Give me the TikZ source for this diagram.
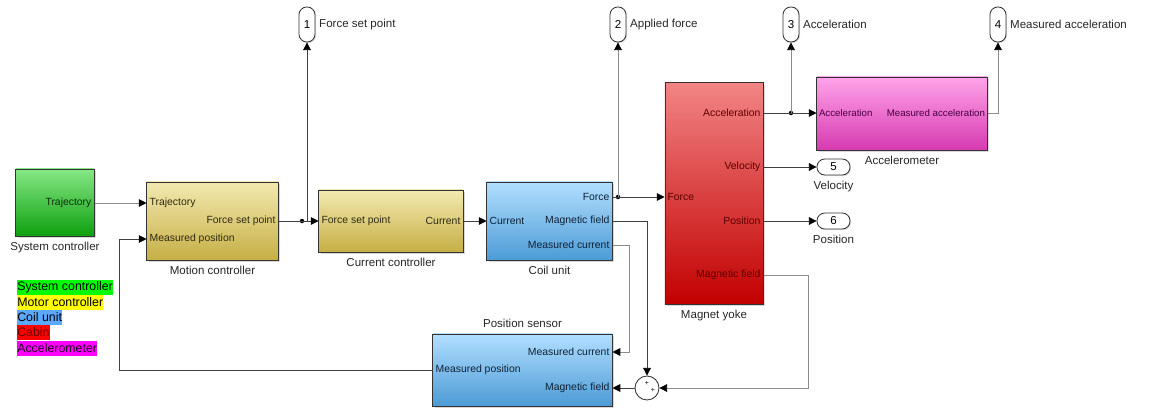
\documentclass[tikz,border=0pt]{standalone}
\usepackage{fontspec}
\setmainfont{Liberation Sans}
\usetikzlibrary{positioning,arrows.meta,shadows}
\definecolor{sysTop}{HTML}{86E886}
\definecolor{sysBot}{HTML}{0EA00E}
\definecolor{motTop}{HTML}{F3E9B0}
\definecolor{motBot}{HTML}{C6AF45}
\definecolor{coilTop}{HTML}{B2DFFF}
\definecolor{coilBot}{HTML}{4C9BD6}
\definecolor{yokeTop}{HTML}{F28484}
\definecolor{yokeBot}{HTML}{C20000}
\definecolor{accTop}{HTML}{FFA4EA}
\definecolor{accBot}{HTML}{D63AB0}
\definecolor{sysTxt}{HTML}{0B2E0B}
\definecolor{motTxt}{HTML}{2E2A12}
\definecolor{coilTxt}{HTML}{0E2236}
\definecolor{yokeTxt}{HTML}{5C0000}
\definecolor{accTxt}{HTML}{4A0040}
\definecolor{legGreen}{HTML}{00FF00}
\definecolor{legYellow}{HTML}{FFFF00}
\definecolor{legBlue}{HTML}{5CA8FF}
\definecolor{legRed}{HTML}{FF0000}
\definecolor{legMag}{HTML}{FF00FF}
\newcommand{\portfont}{\fontsize{7.4}{9}\selectfont}
\newcommand{\accfont}{\fontsize{6.9}{9}\selectfont}
\newcommand{\namefont}{\fontsize{8.2}{10}\selectfont}
\newcommand{\legfont}{\fontsize{8.8}{10}\selectfont}
\tikzset{
	blk/.style={draw=black!80, line width=0.7pt, inner sep=0pt,
		drop shadow={shadow xshift=1.2pt, shadow yshift=-1.2pt, opacity=0.3}},
	sysblk/.style={blk, top color=sysTop, bottom color=sysBot},
	motblk/.style={blk, top color=motTop, bottom color=motBot},
	coilblk/.style={blk, top color=coilTop, bottom color=coilBot},
	yokeblk/.style={blk, top color=yokeTop, bottom color=yokeBot},
	accblk/.style={blk, top color=accTop, bottom color=accBot},
	bname/.style={font=\namefont, text=black!85, inner sep=1pt},
	portin/.style={font=\portfont, anchor=west, inner xsep=2pt, inner ysep=1pt},
	portout/.style={font=\portfont, anchor=east, inner xsep=2pt, inner ysep=1pt},
	accport/.style={font=\accfont, text=accTxt, inner xsep=1.6pt},
	outv/.style={draw=black!80, fill=white, line width=0.6pt, rounded corners=5.5pt,
		minimum width=0.4cm, minimum height=0.875cm, inner sep=0pt, font=\namefont,
		drop shadow={shadow xshift=0.8pt, shadow yshift=-0.8pt, opacity=0.25}},
	outh/.style={outv, minimum width=0.825cm, minimum height=0.4cm},
	oname/.style={font=\namefont, text=black!85, inner xsep=2.5pt, inner ysep=1pt},
	sig/.style={draw=black!75, line width=0.6pt,
		-{Triangle[length=5.5pt,width=5.5pt,color=black]}},
	sigl/.style={sig, draw=black!45},
	dot/.style={circle, fill=black, inner sep=0pt, minimum size=3.2pt},
	plus/.style={font=\fontsize{5}{5}\selectfont, inner sep=0pt},
	legend/.style={anchor=west, inner sep=0pt, minimum height=0.375cm, font=\legfont}
}
\begin{document}
\begin{tikzpicture}[x=0.025cm,y=-0.025cm]
	\useasboundingbox (0,0) rectangle (1171,408);

	\node[sysblk, minimum width=1.95cm, minimum height=1.675cm] (sysc) at (55,202.5) {};
	\node[bname, below=1mm of sysc] (sysc-name) {System controller};
	\node[portout, text=sysTxt] (sysc-traj) at (sysc.east |- 0,203) {Trajectory};

	\node[motblk, minimum width=3.275cm, minimum height=1.95cm] (mot) at (212.5,221) {};
	\node[bname, below=1mm of mot] (mot-name) {Motion controller};
	\node[portin, text=motTxt] (mot-traj) at (mot.west |- 0,203) {Trajectory};
	\node[portin, text=motTxt] (mot-mpos) at (mot.west |- 0,239) {Measured position};
	\node[portout, text=motTxt] (mot-fsp) at (mot.east |- 0,221) {Force set point};

	\node[motblk, minimum width=3.6cm, minimum height=1.55cm] (cur) at (391,221) {};
	\node[bname, below=1mm of cur] (cur-name) {Current controller};
	\node[portin, text=motTxt] (cur-fsp) at (cur.west |- 0,221) {Force set point};
	\node[portout, text=motTxt] (cur-cur) at (cur.east |- 0,221) {Current};

	\node[coilblk, minimum width=3.125cm, minimum height=1.95cm] (coil) at (549.5,221) {};
	\node[bname, below=1mm of coil] (coil-name) {Coil unit};
	\node[portin, text=coilTxt] (coil-cur) at (coil.west |- 0,221) {Current};
	\node[portout, text=coilTxt] (coil-force) at (coil.east |- 0,197) {Force};
	\node[portout, text=coilTxt] (coil-mf) at (coil.east |- 0,221) {Magnetic field};
	\node[portout, text=coilTxt] (coil-mc) at (coil.east |- 0,245) {Measured current};

	\node[yokeblk, minimum width=2.45cm, minimum height=5.525cm] (yoke) at (714,193.5) {};
	\node[bname, below=1mm of yoke] (yoke-name) {Magnet yoke};
	\node[portin, text=yokeTxt] (yoke-force) at (yoke.west |- 0,197) {Force};
	\node[portout, text=yokeTxt] (yoke-acc) at (yoke.east |- 0,113) {Acceleration};
	\node[portout, text=yokeTxt] (yoke-vel) at (yoke.east |- 0,167) {Velocity};
	\node[portout, text=yokeTxt] (yoke-posn) at (yoke.east |- 0,221) {Position};
	\node[portout, text=yokeTxt] (yoke-mf) at (yoke.east |- 0,275) {Magnetic field};

	\node[accblk, minimum width=4.25cm, minimum height=1.825cm] (accm) at (902,113.5) {};
	\node[bname, below=1mm of accm] (accm-name) {Accelerometer};
	\node[portin, accport] (accm-acc) at (accm.west |- 0,113) {Acceleration};
	\node[portout, accport] (accm-macc) at (accm.east |- 0,113) {Measured acceleration};

	\node[coilblk, minimum width=4.475cm, minimum height=1.8cm] (pos) at (522.5,370) {};
	\node[bname, above=1mm of pos] (pos-name) {Position sensor};
	\node[portout, text=coilTxt] (pos-mc) at (pos.east |- 0,352) {Measured current};
	\node[portout, text=coilTxt] (pos-mf) at (pos.east |- 0,388) {Magnetic field};
	\node[portin, text=coilTxt] (pos-mpos) at (pos.west |- 0,370) {Measured position};

	\node[circle, draw=black!80, fill=white, line width=0.6pt, minimum size=0.6cm, inner sep=0pt] (sum) at (647,388) {};
	\node[plus] (sum-a) at (647,383) {+};
	\node[plus] (sum-b) at (653,390) {+};

	\node[outv] (out1) at (307,24.5) {1};
	\node[oname, right=0pt of out1] (out1-name) {Force set point};
	\node[outv] (out2) at (618,24.5) {2};
	\node[oname, right=0pt of out2] (out2-name) {Applied force};
	\node[outv] (out3) at (791,24.5) {3};
	\node[oname, right=0pt of out3] (out3-name) {Acceleration};
	\node[outv] (out4) at (998,24.5) {4};
	\node[oname, right=0pt of out4] (out4-name) {Measured acceleration};
	\node[outh] (out5) at (833.5,167) {5};
	\node[oname, below=1mm of out5] (out5-name) {Velocity};
	\node[outh] (out6) at (833.5,221) {6};
	\node[oname, below=1mm of out6] (out6-name) {Position};

	\node[dot] (d1) at (302,221) {};
	\node[dot] (d2) at (618,197) {};
	\node[dot] (d3) at (791,113) {};

	\draw[sigl] (sysc-traj.east) -- (mot-traj.west);
	\draw[sig] (mot-fsp.east) -- (cur-fsp.west);
	\draw[sig] (d1.center) -| (out1.south);
	\draw[sig] (cur-cur.east) -- (coil-cur.west);
	\draw[sig] (coil-force.east) -- (yoke-force.west);
	\draw[sigl] (d2.center) -- (out2.south);
	\draw[sig] (yoke-acc.east) -- (accm-acc.west);
	\draw[sigl] (d3.center) -- (out3.south);
	\draw[sigl] (accm-macc.east) -| (out4.south);
	\draw[sig] (yoke-vel.east) -- (out5.west);
	\draw[sig] (yoke-posn.east) -- (out6.west);
	\draw[sigl] (yoke-mf.east) -- ++(45,0) |- (sum.east);
	\draw[sig] (coil-mf.east) -| (sum.north);
	\draw[sigl] (coil-mc.east) -- ++(17,0) |- (pos-mc.east);
	\draw[sig] (sum.west) -- (pos-mf.east);
	\draw[sig] (pos-mpos.west) -- ++(-313,0) |- (mot-mpos.west);

	\node[legend, fill=legGreen] (leg1) at (17,287.5) {System controller};
	\node[legend, fill=legYellow] (leg2) at (17,302.5) {Motor controller};
	\node[legend, fill=legBlue] (leg3) at (17,317.5) {Coil unit};
	\node[legend, fill=legRed, text=black!60!red] (leg4) at (17,332.5) {Cabin};
	\node[legend, fill=legMag, text=black!80!violet] (leg5) at (17,348) {Accelerometer};
\end{tikzpicture}
\end{document}
